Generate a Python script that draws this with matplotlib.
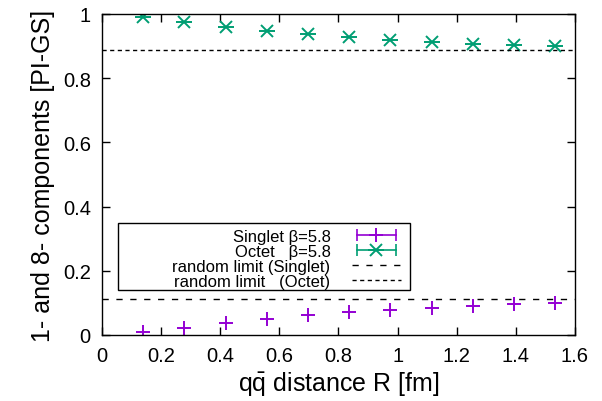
import matplotlib
matplotlib.use("Agg")
import matplotlib.pyplot as plt
from matplotlib.lines import Line2D
from matplotlib.patches import Rectangle
from matplotlib.legend_handler import HandlerLine2D, HandlerTuple

plt.rcParams['font.family'] = ['Liberation Sans', 'DejaVu Sans']
plt.rcParams['mathtext.fontset'] = 'custom'
plt.rcParams['mathtext.rm'] = 'Liberation Sans'
plt.rcParams['mathtext.it'] = 'Liberation Sans:italic'

# q-qbar distance R [fm]
R = [0.139, 0.278, 0.418, 0.557, 0.697, 0.836, 0.975, 1.115, 1.254, 1.393, 1.533]
# singlet / octet components of the PI-GS
singlet = [0.009, 0.023, 0.038, 0.051, 0.062, 0.071, 0.079, 0.085, 0.090, 0.095, 0.099]
octet = [0.990, 0.975, 0.961, 0.948, 0.937, 0.927, 0.920, 0.913, 0.908, 0.904, 0.900]
# random limits 1/9 and 8/9
rand_singlet = 1 / 9
rand_octet = 8 / 9

purple = '#9400d3'
green = '#009e73'

fig = plt.figure(figsize=(6.02, 4.02), dpi=100)
ax = fig.add_axes([0.1694, 0.1642, 0.7857, 0.7985])

ax.plot(R, singlet, ls='none', marker='+', ms=10, mew=1.4, color=purple)
ax.plot(R, octet, ls='none', marker='x', ms=9, mew=1.4, color=green)
ax.plot(R, octet, ls='none', marker='_', ms=11, mew=1.4, color=green)

l1 = ax.axhline(rand_singlet, color='black', lw=1, dashes=(4.5, 5.5))
l2 = ax.axhline(rand_octet, color='black', lw=1, dashes=(3, 2.5))

# legend handles like gnuplot errorbar samples
cap_s = Line2D([], [], color=purple, lw=1.2, marker='|', ms=9, mew=1.2)
pt_s = Line2D([], [], ls='none', color=purple, marker='+', ms=10, mew=1.4)
cap_o = Line2D([], [], color=green, lw=1.2, marker='|', ms=9, mew=1.2)
pt_o1 = Line2D([], [], ls='none', color=green, marker='x', ms=9, mew=1.4)
pt_o2 = Line2D([], [], ls='none', color=green, marker='_', ms=11, mew=1.4)

hm = {
    cap_s: HandlerLine2D(numpoints=2), cap_o: HandlerLine2D(numpoints=2),
    pt_s: HandlerLine2D(numpoints=1), pt_o1: HandlerLine2D(numpoints=1),
    pt_o2: HandlerLine2D(numpoints=1), tuple: HandlerTuple(ndivide=1),
}
leg = ax.legend(
    [(cap_s, pt_s), (cap_o, pt_o1, pt_o2), l1, l2],
    ['Singlet \u03b2=5.8', 'Octet   \u03b2=5.8', 'random limit (Singlet)', 'random limit   (Octet)'],
    handler_map=hm, markerfirst=False, loc='lower right',
    bbox_to_anchor=(0.633, 0.14), fontsize=12, frameon=False,
    borderpad=0.05, labelspacing=0,
    handlelength=2.9, handletextpad=1.3, borderaxespad=0,
)
# gnuplot-style key box
ax.add_patch(Rectangle((0.034, 0.14), 0.617, 0.209, transform=ax.transAxes,
                       fill=False, ec='black', lw=1, zorder=4))

ax.set_xlim(0, 1.6)
ax.set_ylim(0, 1)
ax.set_xticks([0, 0.2, 0.4, 0.6, 0.8, 1, 1.2, 1.4, 1.6])
ax.set_xticklabels(['0', '0.2', '0.4', '0.6', '0.8', '1', '1.2', '1.4', '1.6'])
ax.set_yticks([0, 0.2, 0.4, 0.6, 0.8, 1])
ax.set_yticklabels(['0', '0.2', '0.4', '0.6', '0.8', '1'])
ax.tick_params(direction='in', top=True, right=True, length=6, width=1,
               labelsize=14.5, pad=8)
for s in ax.spines.values():
    s.set_linewidth(1)

ax.set_xlabel(r'q$\mathrm{\bar{q}}$ distance R [fm]', fontsize=18, labelpad=3)
ax.set_ylabel('1- and 8- components [PI-GS]', fontsize=18, labelpad=6)

fig.savefig('out.png', dpi=100)
